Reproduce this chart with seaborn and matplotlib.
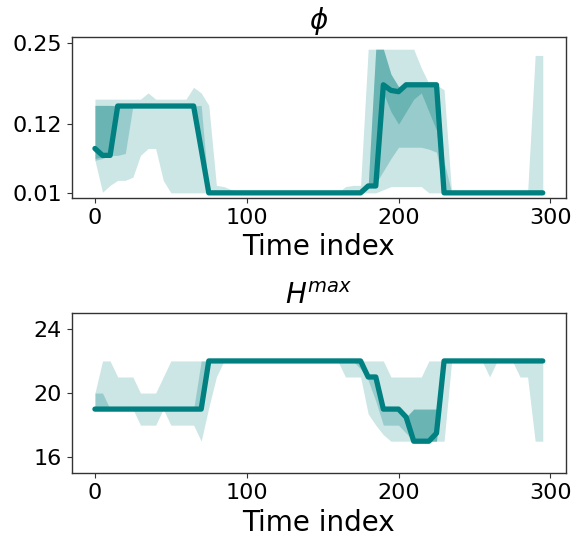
import numpy as np
import pandas as pd
import matplotlib
matplotlib.use("Agg")
import matplotlib.pyplot as plt
import seaborn as sns

# time index (one value every 5 steps)
time_idx = np.arange(0, 300, 5)

# ---- phi: median and quantile bands ----
phi_med = [0.081, 0.07, 0.07] + [0.149] * 11 + [0.08] + [0.01] * 21 + \
    [0.021, 0.021, 0.183, 0.174, 0.172] + [0.183] * 5 + [0.01] * 14
phi_lo90 = [0.062, 0.011, 0.022, 0.03, 0.03, 0.035, 0.07, 0.081, 0.081, 0.03] + \
    [0.01] * 28 + [0.015] + [0.02] * 5 + [0.01] * 16
phi_hi90 = [0.16] * 7 + [0.17] + [0.16] * 5 + [0.179, 0.17, 0.15, 0.022, 0.02, 0.015] + \
    [0.01] * 14 + [0.02, 0.022, 0.022] + [0.24] * 7 + [0.21, 0.185, 0.183, 0.175] + \
    [0.01] * 11 + [0.23, 0.23]
phi_lo50 = [0.062, 0.065, 0.07, 0.07, 0.073] + [0.149] * 9 + [0.08] + [0.01] * 21 + \
    [0.021, 0.025, 0.045, 0.065] + [0.083] * 4 + [0.08, 0.075] + [0.01] * 14
phi_hi50 = [0.15] * 5 + [0.149] * 9 + [0.15] + [0.01] * 21 + \
    [0.021, 0.24, 0.24, 0.2, 0.18] + [0.183] * 5 + [0.06] + [0.01] * 13
phi_lo25 = [0.065, 0.068, 0.07] + [0.149] * 11 + [0.08] + [0.01] * 21 + \
    [0.021, 0.021, 0.17, 0.14, 0.12, 0.14, 0.16, 0.17, 0.14, 0.11] + [0.01] * 14
phi_hi25 = [0.15, 0.15, 0.15] + [0.149] * 11 + [0.08] + [0.01] * 21 + \
    [0.021, 0.24, 0.24, 0.2, 0.18] + [0.183] * 5 + [0.01] * 14

# ---- H^max: median and quantile bands ----
h_med = [19] * 15 + [22] * 21 + [21, 21, 19, 19, 19, 18.5, 17, 17, 17, 17.5] + [22] * 14
h_lo90 = [19] * 6 + [18, 18, 18, 19] + [18] * 4 + [17, 19.1, 21] + [22] * 16 + \
    [21, 21, 21, 18.7, 18, 17.4] + [17] * 8 + [22] * 5 + [21, 22, 22, 22, 21, 21, 17, 17]
h_hi90 = [20, 22, 22, 21, 21, 21, 20, 20, 20, 21] + [22] * 29 + [21] * 5 + [22] * 16
h_lo50 = [19] * 15 + [22] * 20 + [21.5, 20.8, 19.5, 18, 18, 18, 17.5, 17, 17, 17, 17] + [22] * 14
h_hi50 = [20, 20, 19] + [19] * 11 + [22] + [22] * 21 + [21, 21, 19, 19, 19, 18.5] + \
    [19] * 4 + [22] * 14
h_lo25 = [19] * 15 + [22] * 21 + [21, 21, 19, 19, 19, 18.5] + [17] * 4 + [22] * 14
h_hi25 = [19] * 15 + [22] * 21 + [21, 21, 19, 19, 19, 18.5] + [19] * 4 + [22] * 14

teal = "#008080"

sns.set_style("ticks")
plt.rcParams["font.family"] = ["DejaVu Sans"]
plt.rcParams["text.color"] = "black"
plt.rcParams["axes.labelcolor"] = "black"

fig, axes = plt.subplots(2, 1, figsize=(5.75, 5.4), dpi=100)
fig.subplots_adjust(left=0.1247, right=0.9843, top=0.9309, bottom=0.1235, hspace=0.716)

panels = [
    (axes[0], r"$\phi$", phi_med, [(phi_lo90, phi_hi90), (phi_lo50, phi_hi50), (phi_lo25, phi_hi25)],
     [0.01, 0.12, 0.25], (0.002, 0.259)),
    (axes[1], r"$H^{max}$", h_med, [(h_lo90, h_hi90), (h_lo50, h_hi50), (h_lo25, h_hi25)],
     [16, 20, 24], (15, 25)),
]

alphas = [0.2, 0.25, 0.3]

for ax, title, med, bands, yticks, ylim in panels:
    for (lo, hi), a in zip(bands, alphas):
        ax.fill_between(time_idx, lo, hi, color=teal, alpha=a, linewidth=0)
    df = pd.DataFrame({"t": time_idx, "v": med})
    sns.lineplot(data=df, x="t", y="v", ax=ax, color=teal, linewidth=3.8)
    ax.set_title(title, fontsize=20, color="black")
    ax.set_xlabel("Time index", fontsize=20, color="black")
    ax.set_ylabel("")
    ax.set_xticks([0, 100, 200, 300])
    ax.set_yticks(yticks)
    ax.set_xlim(-15.3, 310.3)
    ax.set_ylim(*ylim)
    ax.tick_params(labelsize=16, length=3.5, color="0.2", labelcolor="black")
    for s in ax.spines.values():
        s.set_color("0.2")
        s.set_linewidth(1.0)

axes[0].set_yticklabels(["0.01", "0.12", "0.25"])

fig.savefig("out.png", dpi=100)
